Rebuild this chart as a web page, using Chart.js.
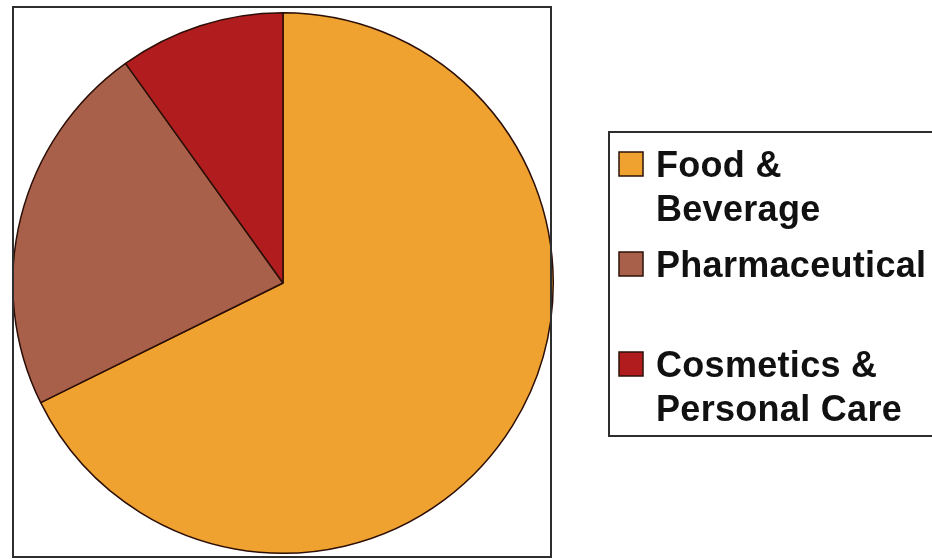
<!DOCTYPE html>
<html>
<head>
<meta charset="utf-8">
<script src="https://cdn.jsdelivr.net/npm/chart.js@4"></script>
<style>
  html, body { margin:0; padding:0; background:#fff; }
  #wrap { width:932px; height:559px; position:relative; }
</style>
</head>
<body>
<div id="wrap"><canvas id="pie" width="932" height="559"></canvas></div>
<script>
// -----------------------------------------------------------
// DATA
// -----------------------------------------------------------

const labels = ["Food & Beverage", "Pharmaceutical", "Cosmetics & Personal Care"];
const shares = [67.7, 22.4, 9.9];
const colors = ["#EFA22F", "#A8604A", "#B11D1F"];
// how each label wraps inside the legend box
const legendLines = [["Food &", "Beverage"], ["Pharmaceutical"], ["Cosmetics &", "Personal Care"]];

// -----------------------------------------------------------
// frame round the plot + legend box on the right
// -----------------------------------------------------------

const framePlugin = {
  id: "frame",
  afterDraw(chart) {
    const ctx = chart.ctx;
    ctx.save();
    ctx.strokeStyle = "#2e2e2e";
    ctx.lineWidth = 2;
    ctx.strokeRect(13, 7, 538, 550);

    // legend box
    ctx.strokeRect(609, 132, 340, 304);

    const rowBase = [177, 277, 377];   // baseline of first line of each entry
    ctx.font = "bold 36px 'Liberation Sans', Arial, sans-serif";
    ctx.letterSpacing = "0.3px";
    ctx.textBaseline = "alphabetic";
    chart.data.labels.forEach((lab, i) => {
      const y = rowBase[i];
      ctx.fillStyle = chart.data.datasets[0].backgroundColor[i];
      ctx.fillRect(619, y - 25, 24, 24);
      ctx.strokeStyle = "#2b1208";
      ctx.lineWidth = 1.5;
      ctx.strokeRect(619, y - 25, 24, 24);
      ctx.fillStyle = "#111";
      legendLines[i].forEach((t, k) => ctx.fillText(t, 656, y + k * 44));
    });
    ctx.restore();
  }
};

new Chart(document.getElementById("pie"), {
  type: "pie",
  data: {
    labels,
    datasets: [{
      data: shares,
      backgroundColor: colors,
      borderColor: "#2b0e06",
      borderWidth: 1.5
    }]
  },
  options: {
    responsive: false,
    animation: false,
    layout: { padding: { left: 12, top: 12, right: 378, bottom: 5 } },
    plugins: { legend: { display: false }, tooltip: { enabled: false } }
  },
  plugins: [framePlugin]
});
</script>
</body>
</html>
